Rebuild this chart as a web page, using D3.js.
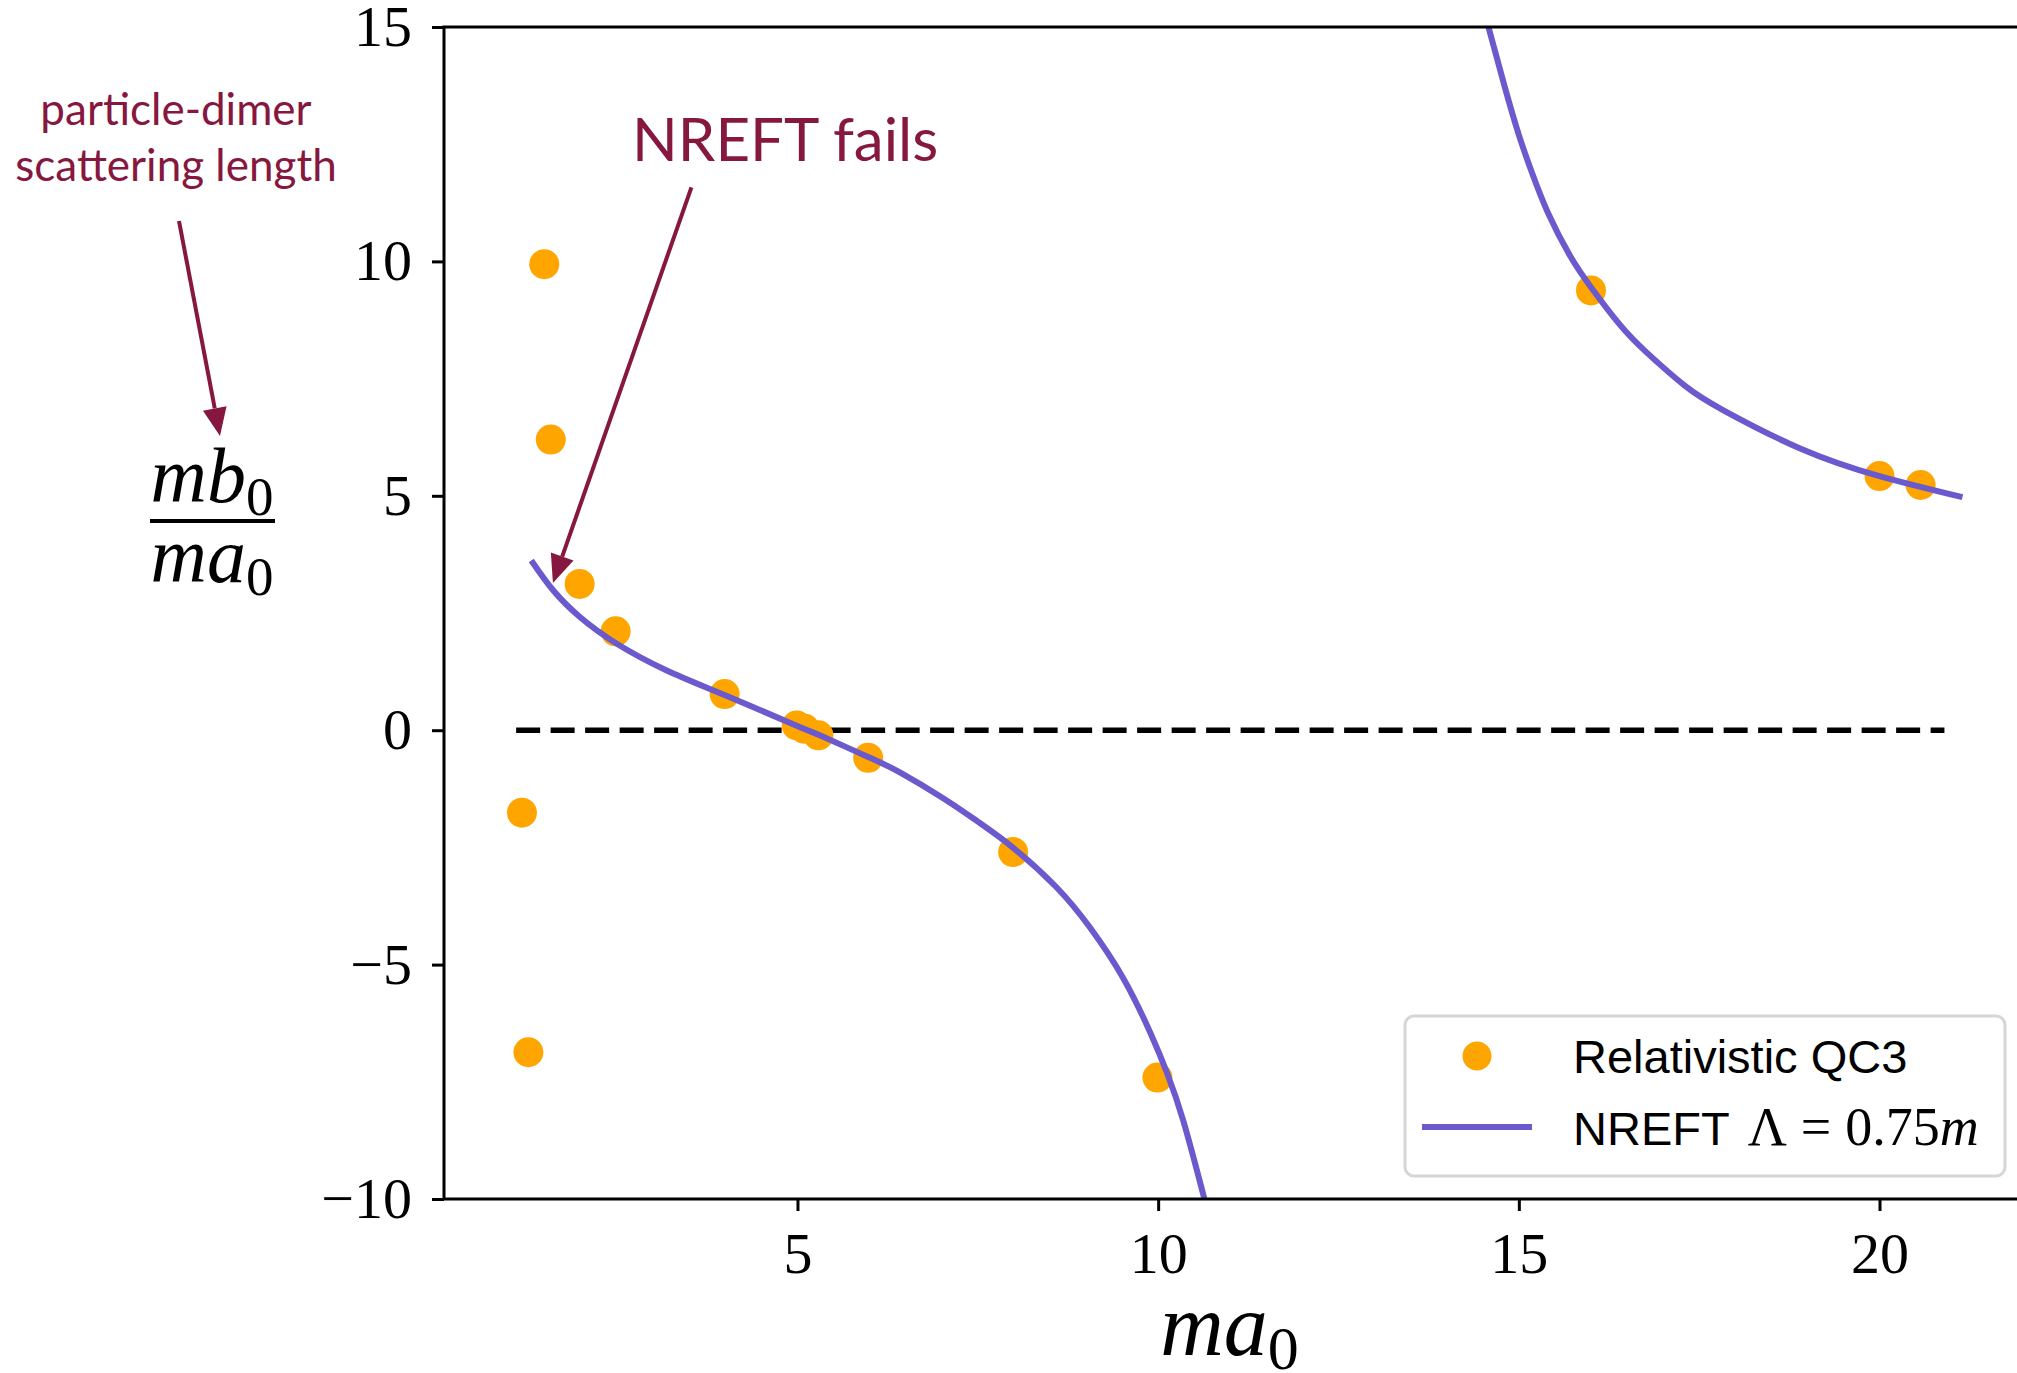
<!DOCTYPE html>
<html>
<head>
<meta charset="utf-8">
<script src="https://cdn.jsdelivr.net/npm/d3@7"></script>
<style>
  html, body { margin: 0; padding: 0; background: #fff; overflow: hidden; }
</style>
</head>
<body>
<div id="chart"></div>
<script>
// relativistic QC3 points (ma0, mb0/ma0)
const qc3X = [1.18, 1.27, 1.49, 1.58, 1.98, 2.48, 3.99, 4.99, 5.10, 5.29, 5.98, 7.99, 9.99, 16.0, 20.0, 20.57];
const qc3Y = [-1.76, -6.87, 9.94, 6.2, 3.12, 2.11, 0.77, 0.10, 0.03, -0.11, -0.59, -2.60, -7.41, 9.38, 5.42, 5.23];

// NREFT curve, one branch each side of the pole
const nreftLowX = [1.31, 1.61, 1.98, 2.49, 3.18, 3.99, 5.03, 5.31, 5.98, 6.42, 7.02, 7.5, 8.0, 8.59, 9.05, 9.52, 9.89, 10.12, 10.35, 10.65];
const nreftLowY = [3.62, 2.99, 2.42, 1.85, 1.28, 0.75, 0.07, -0.11, -0.57, -0.90, -1.45, -1.95, -2.52, -3.35, -4.20, -5.30, -6.45, -7.30, -8.34, -10.05];
const nreftHighX = [14.57, 14.8, 15.0, 15.18, 15.4, 15.71, 16.0, 16.4, 16.77, 17.3, 17.83, 18.9, 20.0, 21.15];
const nreftHighY = [15.05, 13.75, 12.7, 11.9, 11.05, 10.12, 9.45, 8.65, 8.06, 7.35, 6.83, 6.01, 5.42, 4.97];

const zeroLineX = [1.1, 20.9];
const xTicks = [5, 10, 15, 20];
const yTicks = [-10, -5, 0, 5, 10, 15];
const xDomain = [0.1, 22.1];
const yDomain = [-10, 15];

const W = 2017, H = 1373;
const mLeft = 444, mTop = 27, plotW = 1587, plotH = 1172;
const maroon = '#86173f';
const serif = '"Liberation Serif", "DejaVu Serif", serif';
const sans = 'Lato, "Open Sans", sans-serif';

const svg = d3.select('#chart').append('svg')
  .attr('width', W)
  .attr('height', H);

const x = d3.scaleLinear().domain(xDomain).range([mLeft, mLeft + plotW]);
const y = d3.scaleLinear().domain(yDomain).range([mTop + plotH, mTop]);

svg.append('clipPath').attr('id', 'plotclip')
  .append('rect')
  .attr('x', mLeft).attr('y', mTop)
  .attr('width', plotW).attr('height', plotH);

const plot = svg.append('g').attr('clip-path', 'url(#plotclip)');

// dashed zero line
plot.append('line')
  .attr('x1', x(zeroLineX[0])).attr('x2', x(zeroLineX[1]))
  .attr('y1', y(0)).attr('y2', y(0))
  .attr('stroke', '#000')
  .attr('stroke-width', 5.5)
  .attr('stroke-dasharray', '24 10.5');

// points
const pts = d3.zip(qc3X, qc3Y);
plot.selectAll('circle.qc3')
  .data(pts)
  .enter().append('circle')
  .attr('class', 'qc3')
  .attr('cx', d => x(d[0]))
  .attr('cy', d => y(d[1]))
  .attr('r', 15)
  .attr('fill', '#ffa500');

// NREFT curve
const line = d3.line()
  .x(d => x(d[0]))
  .y(d => y(d[1]))
  .curve(d3.curveNatural);

[d3.zip(nreftLowX, nreftLowY), d3.zip(nreftHighX, nreftHighY)].forEach(branch => {
  plot.append('path')
    .attr('d', line(branch))
    .attr('fill', 'none')
    .attr('stroke', '#6a5acd')
    .attr('stroke-width', 6);
});

// frame
svg.append('rect')
  .attr('x', mLeft).attr('y', mTop)
  .attr('width', plotW).attr('height', plotH)
  .attr('fill', 'none')
  .attr('stroke', '#000')
  .attr('stroke-width', 3);

const minus = v => (v < 0 ? '\u2212' + Math.abs(v) : '' + v);

const xAxis = svg.append('g')
  .attr('transform', 'translate(0,' + (mTop + plotH) + ')')
  .call(d3.axisBottom(x).tickValues(xTicks).tickFormat(minus).tickSize(12).tickPadding(21));
const yAxis = svg.append('g')
  .attr('transform', 'translate(' + mLeft + ',0)')
  .call(d3.axisLeft(y).tickValues(yTicks).tickFormat(minus).tickSize(12).tickPadding(20));

[xAxis, yAxis].forEach(a => {
  a.select('.domain').remove();
  a.selectAll('.tick line').attr('stroke', '#000').attr('stroke-width', 3);
  a.selectAll('.tick text')
    .attr('fill', '#000')
    .style('font-family', serif)
    .style('font-size', '58px');
});

// x label  ma_0
const xl = svg.append('text')
  .attr('x', mLeft + plotW / 2 - 8)
  .attr('y', 1355)
  .attr('text-anchor', 'middle')
  .style('font-family', serif)
  .style('font-size', '88px');
xl.append('tspan').style('font-style', 'italic').text('ma');
xl.append('tspan').attr('dy', 14).style('font-size', '62px').text('0');

// y label as a fraction
function mathLabel(txt, cx, by) {
  const t = svg.append('text')
    .attr('x', cx).attr('y', by)
    .attr('text-anchor', 'middle')
    .style('font-family', serif)
    .style('font-size', '78px');
  t.append('tspan').style('font-style', 'italic').text(txt);
  t.append('tspan').attr('dy', 13).style('font-size', '55px').text('0');
}
mathLabel('mb', 212, 502);
mathLabel('ma', 212, 582);
svg.append('line')
  .attr('x1', 150).attr('x2', 275)
  .attr('y1', 521).attr('y2', 521)
  .attr('stroke', '#000').attr('stroke-width', 4);

// annotations
function arrow(x1, y1, x2, y2) {
  const ang = Math.atan2(y2 - y1, x2 - x1);
  const hl = 28, hw = 12;
  const bx = x2 - hl * Math.cos(ang), by = y2 - hl * Math.sin(ang);
  svg.append('line')
    .attr('x1', x1).attr('y1', y1).attr('x2', bx).attr('y2', by)
    .attr('stroke', maroon).attr('stroke-width', 4);
  const px = -Math.sin(ang), py = Math.cos(ang);
  svg.append('path')
    .attr('d', 'M' + x2 + ',' + y2 +
      'L' + (bx + hw * px) + ',' + (by + hw * py) +
      'L' + (bx - hw * px) + ',' + (by - hw * py) + 'Z')
    .attr('fill', maroon);
}

svg.append('text')
  .attr('x', 176).attr('y', 125)
  .attr('text-anchor', 'middle')
  .attr('fill', maroon)
  .style('font-family', sans)
  .style('font-size', '44px')
  .text('particle-dimer');
svg.append('text')
  .attr('x', 176).attr('y', 181)
  .attr('text-anchor', 'middle')
  .attr('fill', maroon)
  .style('font-family', sans)
  .style('font-size', '44px')
  .text('scattering length');
arrow(179, 221, 220, 436);

svg.append('text')
  .attr('x', 632).attr('y', 161)
  .attr('fill', maroon)
  .style('font-family', sans)
  .style('font-size', '60px')
  .text('NREFT fails');
arrow(x(3.53), y(11.58), x(1.61), y(3.14));

// legend
const lg = svg.append('g');
lg.append('rect')
  .attr('x', 1405).attr('y', 1016)
  .attr('width', 600).attr('height', 160)
  .attr('rx', 9)
  .attr('fill', '#fff').attr('fill-opacity', 0.8)
  .attr('stroke', '#d6d6d6').attr('stroke-width', 3);
lg.append('circle')
  .attr('cx', 1477).attr('cy', 1056).attr('r', 14.5)
  .attr('fill', '#ffa500');
lg.append('line')
  .attr('x1', 1422).attr('x2', 1532)
  .attr('y1', 1127).attr('y2', 1127)
  .attr('stroke', '#6a5acd').attr('stroke-width', 6);
lg.append('text')
  .attr('x', 1573).attr('y', 1073)
  .style('font-family', '"Liberation Sans", Arimo, sans-serif')
  .style('font-size', '47px')
  .text('Relativistic QC3');
const l2 = lg.append('text')
  .attr('x', 1573).attr('y', 1145)
  .style('font-size', '47px');
l2.append('tspan').style('font-family', '"Liberation Sans", sans-serif').text('NREFT');
l2.append('tspan').attr('dx', 18).style('font-family', serif).style('font-size', '54px').text('\u039B');
l2.append('tspan').attr('dx', 14).style('font-family', serif).style('font-size', '54px').text('=');
l2.append('tspan').attr('dx', 14).style('font-family', serif).style('font-size', '54px').text('0.75');
l2.append('tspan').style('font-family', serif).style('font-size', '54px').style('font-style', 'italic').text('m');
</script>
</body>
</html>
